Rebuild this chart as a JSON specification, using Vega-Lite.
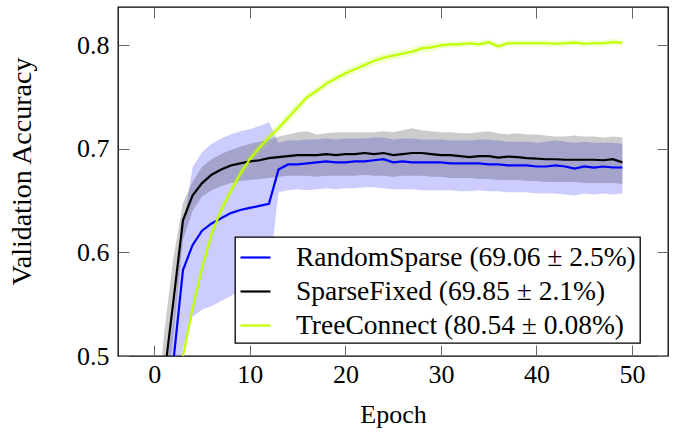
{
  "$schema": "https://vega.github.io/schema/vega-lite/v6.json",
  "width": 550,
  "height": 349,
  "autosize": "none",
  "padding": {"left": 118, "top": 7, "right": 7, "bottom": 76},
  "background": "white",
  "config": {
    "view": {"stroke": "black", "strokeWidth": 1.3},
    "font": "Liberation Serif",
    "legend": {"strokeWidth": 1.3}
  },
  "data": {"values": [
    {"s":"RandomSparse","e":0,"m":0.30,"lo":0.20,"hi":0.40},
    {"s":"RandomSparse","e":1,"m":0.40,"lo":0.32,"hi":0.47},
    {"s":"RandomSparse","e":2,"m":0.495,"lo":0.44,"hi":0.535},
    {"s":"RandomSparse","e":3,"m":0.583,"lo":0.508,"hi":0.625},
    {"s":"RandomSparse","e":4,"m":0.607,"lo":0.538,"hi":0.682},
    {"s":"RandomSparse","e":5,"m":0.621,"lo":0.545,"hi":0.697},
    {"s":"RandomSparse","e":6,"m":0.628,"lo":0.548,"hi":0.705},
    {"s":"RandomSparse","e":7,"m":0.633,"lo":0.553,"hi":0.710},
    {"s":"RandomSparse","e":8,"m":0.638,"lo":0.558,"hi":0.714},
    {"s":"RandomSparse","e":9,"m":0.641,"lo":0.563,"hi":0.717},
    {"s":"RandomSparse","e":10,"m":0.643,"lo":0.567,"hi":0.719},
    {"s":"RandomSparse","e":11,"m":0.645,"lo":0.571,"hi":0.722},
    {"s":"RandomSparse","e":12,"m":0.647,"lo":0.577,"hi":0.726},
    {"s":"RandomSparse","e":13,"m":0.680,"lo":0.658,"hi":0.706},
    {"s":"RandomSparse","e":14,"m":0.685,"lo":0.660,"hi":0.708},
    {"s":"RandomSparse","e":15,"m":0.685,"lo":0.661,"hi":0.708},
    {"s":"RandomSparse","e":16,"m":0.686,"lo":0.660,"hi":0.709},
    {"s":"RandomSparse","e":17,"m":0.687,"lo":0.661,"hi":0.709},
    {"s":"RandomSparse","e":18,"m":0.688,"lo":0.662,"hi":0.710},
    {"s":"RandomSparse","e":19,"m":0.687,"lo":0.661,"hi":0.709},
    {"s":"RandomSparse","e":20,"m":0.687,"lo":0.662,"hi":0.710},
    {"s":"RandomSparse","e":21,"m":0.688,"lo":0.662,"hi":0.710},
    {"s":"RandomSparse","e":22,"m":0.688,"lo":0.663,"hi":0.710},
    {"s":"RandomSparse","e":23,"m":0.689,"lo":0.663,"hi":0.711},
    {"s":"RandomSparse","e":24,"m":0.690,"lo":0.662,"hi":0.711},
    {"s":"RandomSparse","e":25,"m":0.687,"lo":0.661,"hi":0.709},
    {"s":"RandomSparse","e":26,"m":0.688,"lo":0.661,"hi":0.710},
    {"s":"RandomSparse","e":27,"m":0.687,"lo":0.661,"hi":0.710},
    {"s":"RandomSparse","e":28,"m":0.687,"lo":0.660,"hi":0.709},
    {"s":"RandomSparse","e":29,"m":0.687,"lo":0.660,"hi":0.709},
    {"s":"RandomSparse","e":30,"m":0.687,"lo":0.660,"hi":0.709},
    {"s":"RandomSparse","e":31,"m":0.686,"lo":0.660,"hi":0.708},
    {"s":"RandomSparse","e":32,"m":0.686,"lo":0.659,"hi":0.708},
    {"s":"RandomSparse","e":33,"m":0.686,"lo":0.659,"hi":0.708},
    {"s":"RandomSparse","e":34,"m":0.686,"lo":0.660,"hi":0.709},
    {"s":"RandomSparse","e":35,"m":0.685,"lo":0.659,"hi":0.709},
    {"s":"RandomSparse","e":36,"m":0.685,"lo":0.659,"hi":0.708},
    {"s":"RandomSparse","e":37,"m":0.684,"lo":0.658,"hi":0.707},
    {"s":"RandomSparse","e":38,"m":0.684,"lo":0.658,"hi":0.707},
    {"s":"RandomSparse","e":39,"m":0.684,"lo":0.658,"hi":0.707},
    {"s":"RandomSparse","e":40,"m":0.683,"lo":0.657,"hi":0.706},
    {"s":"RandomSparse","e":41,"m":0.683,"lo":0.657,"hi":0.707},
    {"s":"RandomSparse","e":42,"m":0.684,"lo":0.657,"hi":0.708},
    {"s":"RandomSparse","e":43,"m":0.683,"lo":0.656,"hi":0.707},
    {"s":"RandomSparse","e":44,"m":0.681,"lo":0.655,"hi":0.706},
    {"s":"RandomSparse","e":45,"m":0.683,"lo":0.657,"hi":0.707},
    {"s":"RandomSparse","e":46,"m":0.682,"lo":0.656,"hi":0.706},
    {"s":"RandomSparse","e":47,"m":0.683,"lo":0.657,"hi":0.706},
    {"s":"RandomSparse","e":48,"m":0.682,"lo":0.656,"hi":0.706},
    {"s":"RandomSparse","e":49,"m":0.682,"lo":0.657,"hi":0.705},
    {"s":"SparseFixed","e":0,"m":0.38,"lo":0.33,"hi":0.42},
    {"s":"SparseFixed","e":1,"m":0.477,"lo":0.44,"hi":0.52},
    {"s":"SparseFixed","e":2,"m":0.553,"lo":0.52,"hi":0.595},
    {"s":"SparseFixed","e":3,"m":0.631,"lo":0.612,"hi":0.648},
    {"s":"SparseFixed","e":4,"m":0.655,"lo":0.640,"hi":0.668},
    {"s":"SparseFixed","e":5,"m":0.667,"lo":0.654,"hi":0.683},
    {"s":"SparseFixed","e":6,"m":0.675,"lo":0.660,"hi":0.690},
    {"s":"SparseFixed","e":7,"m":0.680,"lo":0.664,"hi":0.695},
    {"s":"SparseFixed","e":8,"m":0.684,"lo":0.667,"hi":0.699},
    {"s":"SparseFixed","e":9,"m":0.686,"lo":0.669,"hi":0.702},
    {"s":"SparseFixed","e":10,"m":0.688,"lo":0.670,"hi":0.705},
    {"s":"SparseFixed","e":11,"m":0.689,"lo":0.671,"hi":0.707},
    {"s":"SparseFixed","e":12,"m":0.691,"lo":0.672,"hi":0.709},
    {"s":"SparseFixed","e":13,"m":0.692,"lo":0.673,"hi":0.712},
    {"s":"SparseFixed","e":14,"m":0.693,"lo":0.674,"hi":0.714},
    {"s":"SparseFixed","e":15,"m":0.694,"lo":0.674,"hi":0.716},
    {"s":"SparseFixed","e":16,"m":0.694,"lo":0.674,"hi":0.717},
    {"s":"SparseFixed","e":17,"m":0.694,"lo":0.673,"hi":0.714},
    {"s":"SparseFixed","e":18,"m":0.695,"lo":0.674,"hi":0.715},
    {"s":"SparseFixed","e":19,"m":0.694,"lo":0.674,"hi":0.716},
    {"s":"SparseFixed","e":20,"m":0.695,"lo":0.674,"hi":0.716},
    {"s":"SparseFixed","e":21,"m":0.695,"lo":0.674,"hi":0.716},
    {"s":"SparseFixed","e":22,"m":0.696,"lo":0.675,"hi":0.716},
    {"s":"SparseFixed","e":23,"m":0.695,"lo":0.674,"hi":0.716},
    {"s":"SparseFixed","e":24,"m":0.696,"lo":0.674,"hi":0.717},
    {"s":"SparseFixed","e":25,"m":0.694,"lo":0.673,"hi":0.716},
    {"s":"SparseFixed","e":26,"m":0.695,"lo":0.674,"hi":0.718},
    {"s":"SparseFixed","e":27,"m":0.696,"lo":0.674,"hi":0.720},
    {"s":"SparseFixed","e":28,"m":0.696,"lo":0.674,"hi":0.718},
    {"s":"SparseFixed","e":29,"m":0.695,"lo":0.673,"hi":0.717},
    {"s":"SparseFixed","e":30,"m":0.694,"lo":0.673,"hi":0.716},
    {"s":"SparseFixed","e":31,"m":0.694,"lo":0.672,"hi":0.716},
    {"s":"SparseFixed","e":32,"m":0.693,"lo":0.672,"hi":0.715},
    {"s":"SparseFixed","e":33,"m":0.692,"lo":0.672,"hi":0.715},
    {"s":"SparseFixed","e":34,"m":0.693,"lo":0.671,"hi":0.716},
    {"s":"SparseFixed","e":35,"m":0.693,"lo":0.671,"hi":0.717},
    {"s":"SparseFixed","e":36,"m":0.6915,"lo":0.670,"hi":0.715},
    {"s":"SparseFixed","e":37,"m":0.6925,"lo":0.670,"hi":0.714},
    {"s":"SparseFixed","e":38,"m":0.692,"lo":0.670,"hi":0.715},
    {"s":"SparseFixed","e":39,"m":0.691,"lo":0.669,"hi":0.714},
    {"s":"SparseFixed","e":40,"m":0.6905,"lo":0.669,"hi":0.714},
    {"s":"SparseFixed","e":41,"m":0.690,"lo":0.668,"hi":0.713},
    {"s":"SparseFixed","e":42,"m":0.690,"lo":0.668,"hi":0.712},
    {"s":"SparseFixed","e":43,"m":0.6895,"lo":0.668,"hi":0.712},
    {"s":"SparseFixed","e":44,"m":0.6895,"lo":0.668,"hi":0.713},
    {"s":"SparseFixed","e":45,"m":0.6895,"lo":0.667,"hi":0.712},
    {"s":"SparseFixed","e":46,"m":0.6895,"lo":0.667,"hi":0.712},
    {"s":"SparseFixed","e":47,"m":0.689,"lo":0.667,"hi":0.711},
    {"s":"SparseFixed","e":48,"m":0.690,"lo":0.667,"hi":0.712},
    {"s":"SparseFixed","e":49,"m":0.687,"lo":0.666,"hi":0.711},
    {"s":"TreeConnect","e":0,"m":0.25,"lo":0.24,"hi":0.26},
    {"s":"TreeConnect","e":1,"m":0.36,"lo":0.35,"hi":0.37},
    {"s":"TreeConnect","e":2,"m":0.44,"lo":0.43,"hi":0.45},
    {"s":"TreeConnect","e":3,"m":0.500,"lo":0.495,"hi":0.505},
    {"s":"TreeConnect","e":4,"m":0.546,"lo":0.541,"hi":0.551},
    {"s":"TreeConnect","e":5,"m":0.585,"lo":0.580,"hi":0.590},
    {"s":"TreeConnect","e":6,"m":0.618,"lo":0.613,"hi":0.623},
    {"s":"TreeConnect","e":7,"m":0.641,"lo":0.636,"hi":0.646},
    {"s":"TreeConnect","e":8,"m":0.659,"lo":0.654,"hi":0.664},
    {"s":"TreeConnect","e":9,"m":0.676,"lo":0.671,"hi":0.681},
    {"s":"TreeConnect","e":10,"m":0.690,"lo":0.685,"hi":0.695},
    {"s":"TreeConnect","e":11,"m":0.701,"lo":0.696,"hi":0.706},
    {"s":"TreeConnect","e":12,"m":0.711,"lo":0.706,"hi":0.716},
    {"s":"TreeConnect","e":13,"m":0.720,"lo":0.715,"hi":0.725},
    {"s":"TreeConnect","e":14,"m":0.730,"lo":0.725,"hi":0.735},
    {"s":"TreeConnect","e":15,"m":0.740,"lo":0.735,"hi":0.745},
    {"s":"TreeConnect","e":16,"m":0.750,"lo":0.746,"hi":0.754},
    {"s":"TreeConnect","e":17,"m":0.756,"lo":0.752,"hi":0.760},
    {"s":"TreeConnect","e":18,"m":0.763,"lo":0.759,"hi":0.767},
    {"s":"TreeConnect","e":19,"m":0.768,"lo":0.764,"hi":0.772},
    {"s":"TreeConnect","e":20,"m":0.773,"lo":0.769,"hi":0.777},
    {"s":"TreeConnect","e":21,"m":0.777,"lo":0.773,"hi":0.781},
    {"s":"TreeConnect","e":22,"m":0.781,"lo":0.777,"hi":0.785},
    {"s":"TreeConnect","e":23,"m":0.785,"lo":0.781,"hi":0.789},
    {"s":"TreeConnect","e":24,"m":0.788,"lo":0.784,"hi":0.792},
    {"s":"TreeConnect","e":25,"m":0.790,"lo":0.786,"hi":0.794},
    {"s":"TreeConnect","e":26,"m":0.792,"lo":0.788,"hi":0.796},
    {"s":"TreeConnect","e":27,"m":0.794,"lo":0.790,"hi":0.798},
    {"s":"TreeConnect","e":28,"m":0.797,"lo":0.793,"hi":0.801},
    {"s":"TreeConnect","e":29,"m":0.798,"lo":0.794,"hi":0.802},
    {"s":"TreeConnect","e":30,"m":0.800,"lo":0.797,"hi":0.803},
    {"s":"TreeConnect","e":31,"m":0.801,"lo":0.798,"hi":0.804},
    {"s":"TreeConnect","e":32,"m":0.801,"lo":0.798,"hi":0.804},
    {"s":"TreeConnect","e":33,"m":0.802,"lo":0.799,"hi":0.805},
    {"s":"TreeConnect","e":34,"m":0.801,"lo":0.798,"hi":0.804},
    {"s":"TreeConnect","e":35,"m":0.803,"lo":0.800,"hi":0.806},
    {"s":"TreeConnect","e":36,"m":0.799,"lo":0.796,"hi":0.802},
    {"s":"TreeConnect","e":37,"m":0.802,"lo":0.799,"hi":0.805},
    {"s":"TreeConnect","e":38,"m":0.802,"lo":0.799,"hi":0.805},
    {"s":"TreeConnect","e":39,"m":0.802,"lo":0.799,"hi":0.805},
    {"s":"TreeConnect","e":40,"m":0.802,"lo":0.799,"hi":0.805},
    {"s":"TreeConnect","e":41,"m":0.802,"lo":0.799,"hi":0.805},
    {"s":"TreeConnect","e":42,"m":0.8015,"lo":0.7985,"hi":0.8045},
    {"s":"TreeConnect","e":43,"m":0.802,"lo":0.799,"hi":0.805},
    {"s":"TreeConnect","e":44,"m":0.8025,"lo":0.7995,"hi":0.8055},
    {"s":"TreeConnect","e":45,"m":0.8015,"lo":0.7985,"hi":0.8045},
    {"s":"TreeConnect","e":46,"m":0.802,"lo":0.799,"hi":0.805},
    {"s":"TreeConnect","e":47,"m":0.802,"lo":0.799,"hi":0.805},
    {"s":"TreeConnect","e":48,"m":0.803,"lo":0.800,"hi":0.806},
    {"s":"TreeConnect","e":49,"m":0.8025,"lo":0.7995,"hi":0.8055}
  ]},
  "layer": [
    {
      "transform": [{"filter": "datum.s == 'RandomSparse'"}],
      "mark": {"type": "area", "color": "#0000ff", "opacity": 0.2, "clip": true},
      "encoding": {
        "x": {"field": "e", "type": "quantitative",
          "scale": {"domain": [-3.8, 53.77], "nice": false, "zero": false},
          "axis": {"values": [0, 10, 20, 30, 40, 50], "domain": false,
            "grid": true, "gridDash": [11, 327, 11, 400], "gridColor": "#666", "gridWidth": 1, "gridOpacity": 1,
            "ticks": true, "tickSize": 0, "tickOpacity": 0,
            "labelFont": "Liberation Serif", "labelFontSize": 26, "labelColor": "black", "labelPadding": 5,
            "title": "Epoch", "titleFont": "Liberation Serif", "titleFontSize": 26, "titleFontWeight": "normal", "titleColor": "black",
            "titleBaseline": "alphabetic", "titleY": 66}},
        "y": {"field": "lo", "type": "quantitative",
          "scale": {"domain": [0.5, 0.837], "nice": false, "zero": false},
          "axis": {"values": [0.5, 0.6, 0.7, 0.8], "format": ".1f", "domain": false,
            "grid": true, "gridDash": [11, 528, 11, 400], "gridColor": "#666", "gridWidth": 1, "gridOpacity": 1,
            "ticks": true, "tickSize": 0, "tickOpacity": 0,
            "labelFont": "Liberation Serif", "labelFontSize": 26, "labelColor": "black", "labelPadding": 9,
            "title": "Validation Accuracy", "titleFont": "Liberation Serif", "titleFontSize": 28, "titleFontWeight": "normal", "titleColor": "black",
            "titleX": -96, "titleY": 164, "titleBaseline": "middle", "titleAlign": "center", "titleAngle": -90}},
        "y2": {"field": "hi"}
      }
    },
    {
      "transform": [{"filter": "datum.s == 'SparseFixed'"}],
      "mark": {"type": "area", "color": "#000000", "opacity": 0.2, "clip": true},
      "encoding": {
        "x": {"field": "e", "type": "quantitative"},
        "y": {"field": "lo", "type": "quantitative"},
        "y2": {"field": "hi"}
      }
    },
    {
      "transform": [{"filter": "datum.s == 'TreeConnect'"}],
      "mark": {"type": "area", "color": "#bfff00", "opacity": 0.2, "clip": true},
      "encoding": {
        "x": {"field": "e", "type": "quantitative"},
        "y": {"field": "lo", "type": "quantitative"},
        "y2": {"field": "hi"}
      }
    },
    {
      "mark": {"type": "line", "strokeWidth": 2.2, "clip": true},
      "encoding": {
        "x": {"field": "e", "type": "quantitative"},
        "y": {"field": "m", "type": "quantitative"},
        "color": {"field": "s", "type": "nominal",
          "scale": {"domain": ["RandomSparse", "SparseFixed", "TreeConnect"], "range": ["#0000ff", "#000000", "#bfff00"]},
          "legend": {"orient": "none", "legendX": 117, "legendY": 230, "title": null,
            "symbolType": "stroke", "symbolSize": 900, "symbolStrokeWidth": 2.2,
            "labelFont": "Liberation Serif", "labelFontSize": 27.5, "labelColor": "black", "labelLimit": 0,
            "labelOffset": 24,
            "labelExpr": "datum.label == 'RandomSparse' ? 'RandomSparse (69.06 ± 2.5%)' : datum.label == 'SparseFixed' ? 'SparseFixed (69.85 ± 2.1%)' : 'TreeConnect (80.54 ± 0.08%)'",
            "padding": 4, "rowPadding": 4, "strokeColor": "black", "fillColor": "white", "cornerRadius": 0}}
      }
    }
  ]
}
